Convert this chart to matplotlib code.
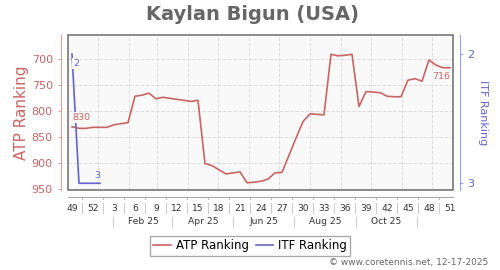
import matplotlib
matplotlib.use('Agg')
import matplotlib.pyplot as plt
import matplotlib.transforms as mtransforms
from matplotlib.patches import Rectangle
import datetime as dt

# weeks since week 49 of 2024
atp_weeks = list(range(55))
atp_rank = [830, 833, 833, 831, 831, 831, 826, 824, 822, 771,
            769, 765, 776, 773, 775, 777, 779, 781, 779, 901,
            905, 913, 921, 919, 917, 938, 937, 935, 931, 919,
            918, 885, 852, 820, 805, 806, 807, 690, 693, 692,
            690, 791, 762, 763, 764, 771, 772, 772, 740, 737,
            742, 701, 711, 716, 716]
itf_weeks = [0, 1, 2, 3, 4]
itf_rank = [2, 3, 3, 3, 3]

week_labels = ['49', '52', '3', '6', '9', '12', '15', '18', '21', '24',
               '27', '30', '33', '36', '39', '42', '45', '48', '51']
month_labels = ['Feb 25', 'Apr 25', 'Jun 25', 'Aug 25', 'Oct 25']

red = '#c86464'
blue = '#6464cc'
grey = '#666666'

start = dt.date(2024, 12, 6)
def wk(y, m, d=1):
    return (dt.date(y, m, d) - start).days / 7

month_starts = [wk(2025, m) for m in range(1, 13)]
seps = [(month_starts[i] + month_starts[i + 1]) / 2 for i in range(0, 12, 2)]

fig = plt.figure(figsize=(5, 2.7), dpi=100)
ax = fig.add_axes([0.136, 0.2963, 0.77, 0.5737])
ax.set_facecolor('#f9f9f9')

ax.plot(atp_weeks, atp_rank, color=red, lw=1.2)
ax.set_xlim(-0.57, 54.43)
ax.set_ylim(952, 653)
ax.set_yticks([700, 750, 800, 850, 900, 950])
ax.tick_params(axis='y', colors='#e0a0a0', labelcolor=red, labelsize=8,
               length=2, pad=4)
ax.set_ylabel('ATP Ranking', color=red, fontsize=11)
ax.yaxis.set_label_coords(-0.101, 0.5)

# x axis: week numbers, grid on month starts
ax.set_xticks(range(0, 55, 3))
ax.set_xticklabels(week_labels)
ax.set_xticks(month_starts, minor=True)
ax.tick_params(axis='x', which='both', length=0, labelsize=6.6,
               labelcolor='#333333', pad=5)
ax.grid(True, axis='y', linestyle='--', color='#dddddd', lw=0.7)
ax.grid(True, axis='x', which='minor', linestyle='--', color='#dddddd', lw=0.7)

for s in ['top', 'right']:
    ax.spines[s].set_visible(False)
ax.spines['left'].set_position(('outward', 5))
ax.spines['left'].set_color('#e0a0a0')
ax.spines['bottom'].set_position(('outward', 5))
ax.spines['bottom'].set_color('#aaaaaa')
ax.add_patch(Rectangle((0, 0), 1, 1, transform=ax.transAxes, fill=False,
                       ec='#777777', lw=1.2, clip_on=False, zorder=5))

# separators and small ticks below the axis
trans = mtransforms.blended_transform_factory(ax.transData, ax.transAxes)
for w in [i + 1.5 for i in range(0, 54, 3)]:
    ax.plot([w, w], [-0.045, -0.058], transform=trans, color='#bbbbbb',
            lw=0.8, clip_on=False)
    ax.plot([w, w], [-0.085, -0.15], transform=trans, color='#cccccc',
            lw=0.8, clip_on=False)
for w in seps:
    ax.plot([w, w], [-0.175, -0.24], transform=trans, color='#cccccc',
            lw=0.8, clip_on=False)
for i, lab in enumerate(month_labels):
    ax.text((seps[i] + seps[i + 1]) / 2, -0.205, lab, transform=trans,
            ha='center', va='center', fontsize=6.6, color='#333333')

ax2 = ax.twinx()
ax2.plot(itf_weeks, itf_rank, color=blue, lw=1.2)
ax2.set_ylim(3.052, 1.853)
ax2.set_yticks([2, 3])
ax2.tick_params(axis='y', colors='#a0a0e0', labelcolor=blue, labelsize=8,
                length=2, pad=3)
ax2.set_ylabel('ITF Ranking', color=blue, fontsize=8, rotation=270)
ax2.yaxis.set_label_coords(1.091, 0.5)
for s in ['top', 'left', 'bottom']:
    ax2.spines[s].set_visible(False)
ax2.spines['right'].set_position(('outward', 5))
ax2.spines['right'].set_color('#a0a0e0')

box = dict(boxstyle='square,pad=0.1', fc='#f9f9f9', ec='none')
ax2.annotate(str(atp_rank[0]), (atp_weeks[0], atp_rank[0]), xycoords=ax.transData,
             xytext=(0, 6.5), textcoords='offset points', ha='left', va='center',
             fontsize=6.8, color=red, bbox=box, zorder=6)
ax2.annotate(str(atp_rank[-1]), (atp_weeks[-1], atp_rank[-1]), xycoords=ax.transData,
             xytext=(0, -6), textcoords='offset points', ha='right', va='center',
             fontsize=6.8, color=red, bbox=box, zorder=6)
ax2.annotate(str(itf_rank[0]), (itf_weeks[0], itf_rank[0]),
             xytext=(1, -6.5), textcoords='offset points', ha='left', va='center',
             fontsize=6.8, color=blue, bbox=box, zorder=6)
ax2.annotate(str(itf_rank[-1]), (itf_weeks[-1], itf_rank[-1]),
             xytext=(0, 5.5), textcoords='offset points', ha='right', va='center',
             fontsize=6.8, color=blue, zorder=6)

fig.suptitle('Kaylan Bigun (USA)', x=0.506, y=0.948, va='center',
             fontsize=14, fontweight='bold', color=grey)

h1 = plt.Line2D([], [], color=red, lw=1.2)
h2 = plt.Line2D([], [], color=blue, lw=1.2)
fig.legend([h1, h2], ['ATP Ranking', 'ITF Ranking'], loc='center',
           bbox_to_anchor=(0.5, 0.089), ncol=2, fontsize=8.5, fancybox=False,
           edgecolor='#aaaaaa', handlelength=1.5, handletextpad=0.4,
           columnspacing=0.6, borderpad=0.3, framealpha=1)

fig.text(0.976, 0.026, '\u00a9 www.coretennis.net, 12-17-2025', ha='right',
         va='center', fontsize=6.5, color=grey)

fig.savefig('out.png', dpi=100)
